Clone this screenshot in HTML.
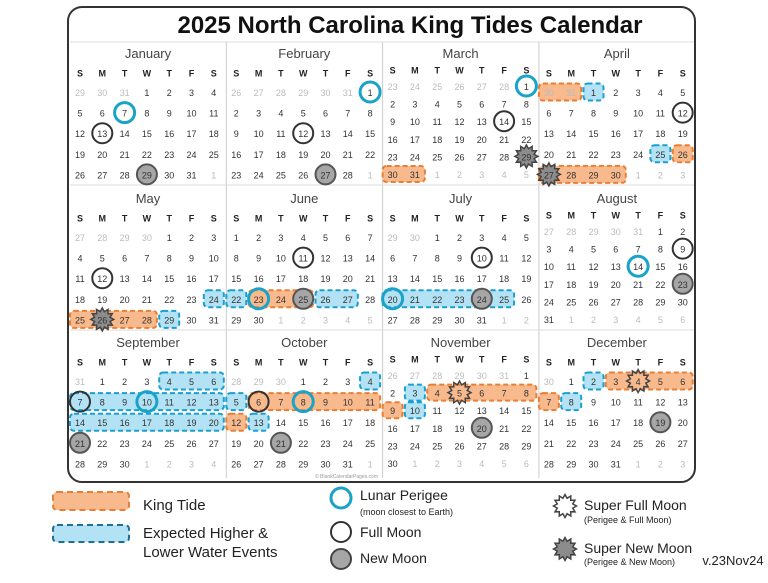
<!DOCTYPE html>
<html><head><meta charset="utf-8"><style>
html,body{margin:0;padding:0;background:#fff;}
svg{display:block;font-family:"Liberation Sans",sans-serif;}
</style></head><body>
<svg id="cal" width="768" height="583" viewBox="0 0 768 583" xmlns="http://www.w3.org/2000/svg">
<rect x="68" y="7" width="627" height="475" rx="14" fill="#fff" stroke="#333" stroke-width="2"/>
<text x="410" y="33" text-anchor="middle" font-size="24" font-weight="bold" fill="#111">2025 North Carolina King Tides Calendar</text>
<g id="grid"></g><g id="marks"></g><g id="days"></g>
<text x="378" y="478" text-anchor="end" font-size="5" fill="#999">© BlankCalendarPages.com</text>
<g>
<rect x="53" y="492" width="76" height="18" rx="4" fill="#f8b98c" stroke="#e97f34" stroke-width="2" stroke-dasharray="6,4"/>
<text x="143" y="510" font-size="15" fill="#222">King Tide</text>
<rect x="53" y="525" width="76" height="17" rx="4" fill="#b3e2f5" stroke="#1c6f96" stroke-width="2" stroke-dasharray="6,4"/>
<text x="143" y="538" font-size="15" fill="#222">Expected Higher &amp;</text>
<text x="143" y="557" font-size="15" fill="#222">Lower Water Events</text>
<circle cx="341" cy="498" r="10" fill="none" stroke="#1aa3c9" stroke-width="3"/>
<text x="360" y="500" font-size="14" fill="#222">Lunar Perigee</text>
<text x="360" y="515" font-size="9" fill="#222">(moon closest to Earth)</text>
<circle cx="341" cy="532" r="10" fill="none" stroke="#333" stroke-width="2"/>
<text x="360" y="537" font-size="14" fill="#222">Full Moon</text>
<circle cx="341" cy="559" r="10" fill="#a6a6a6" stroke="#444" stroke-width="2"/>
<text x="360" y="563" font-size="14" fill="#222">New Moon</text>
<g id="legstars"></g>
<text x="584" y="510" font-size="14" fill="#222">Super Full Moon</text>
<text x="584" y="523" font-size="9" fill="#222">(Perigee &amp; Full Moon)</text>
<text x="584" y="553" font-size="14" fill="#222">Super New Moon</text>
<text x="584" y="565" font-size="9" fill="#222">(Perigee &amp; New Moon)</text>
<text x="733" y="565" text-anchor="middle" font-size="13" fill="#222">v.23Nov24</text>
</g>
</svg>
<script>
const monthNames=["January","February","March","April","May","June","July","August","September","October","November","December"];
const dayHeaders=["S","M","T","W","T","F","S"];
const perigee=[[0,7],[1,1],[2,1],[5,23],[6,20],[7,14],[8,10],[9,8]];
const fullMoon=[[0,13],[1,12],[2,14],[3,12],[4,12],[5,11],[6,10],[7,9],[8,7],[9,6]];
const newMoon=[[0,29],[1,27],[5,25],[6,24],[7,23],[8,21],[9,21],[10,20],[11,19]];
const superNew=[[2,29],[3,27],[4,26]];
const superFull=[[10,5],[11,4]];
const kingTides=[[2,30,31],[3,-1,0],[3,26,26],[3,27,30],[4,25,28],[5,23,25],[9,6,11],[9,12,12],[10,4,8],[10,9,9],[11,3,6],[11,7,7]];
const expected=[[3,1,1],[3,25,25],[4,24,24],[4,29,29],[5,22,22],[5,26,27],[6,20,25],[8,4,6],[8,7,13],[8,14,20],[9,4,4],[9,5,5],[9,13,13],[10,3,3],[10,10,10],[11,2,2],[11,8,8]];
const NS="http://www.w3.org/2000/svg";
function mk(tag,attrs,parent,txt){const e=document.createElementNS(NS,tag);for(const k in attrs)e.setAttribute(k,attrs[k]);if(txt!==undefined)e.textContent=txt;parent.appendChild(e);return e;}
const grid=document.getElementById('grid'),marks=document.getElementById('marks'),days=document.getElementById('days');
const tops=[42,187,331];
function info(m){const s=new Date(2025,m,1).getDay();const n=new Date(2025,m+1,0).getDate();const w=Math.ceil((s+n)/7);return {s,n,w};}
function left(m){return 70+(m%4)*156.3;}
function xCol(m,c){return left(m)+10+c*22.3;}
function yRow(m,r){const T=tops[Math.floor(m/4)];const I=info(m);return I.w===6?T+45+r*17.6:T+51+r*20.6;}
function hdrY(m){const T=tops[Math.floor(m/4)];return info(m).w===6?T+28:T+31;}
function pos(m,d){const I=info(m);const idx=I.s+d-1;return {x:xCol(m,idx%7),y:yRow(m,Math.floor(idx/7))};}
for(let i=1;i<4;i++){const l=mk('line',{x1:70+i*156.3,x2:70+i*156.3,y1:42,y2:478,stroke:'#ccc','stroke-width':1},grid);

}
[42,185,330].forEach(y=>{const l=mk('line',{x1:70,x2:694,y1:y,y2:y,stroke:'#ddd','stroke-width':1},grid);

});
function box(list,fill,stroke,name){list.forEach(([m,a,b])=>{const p=pos(m,a),q=pos(m,b);const h=info(m).w===6?16:17;
const r=mk('rect',{x:p.x-10,y:p.y-h/2-1,width:q.x-p.x+20,height:h,rx:4,fill,stroke,'stroke-width':2,'stroke-dasharray':'5,3'},marks);

});}
box(kingTides,'#f8b98c','#e97f34','king-tide-box');
box(expected,'#b3e2f5','#1a9fd0','expected-event-box');
function star(cx,cy,fill,parent){let pts=[];for(let i=0;i<24;i++){const r=i%2?8:11.5;const a=i*Math.PI/12;pts.push((cx+r*Math.cos(a)).toFixed(1)+','+(cy+r*Math.sin(a)).toFixed(1));}
return mk('polygon',{points:pts.join(' '),fill,stroke:'#444','stroke-width':1.5},parent);}
newMoon.forEach(([m,d])=>{const p=pos(m,d);const c=mk('circle',{cx:p.x,cy:p.y-1,r:10,fill:'#a6a6a6',stroke:'#555','stroke-width':2},marks);

});
fullMoon.forEach(([m,d])=>{const p=pos(m,d);const c=mk('circle',{cx:p.x,cy:p.y-1,r:10,fill:'none',stroke:'#333','stroke-width':2},marks);

});
perigee.forEach(([m,d])=>{const p=pos(m,d);const c=mk('circle',{cx:p.x,cy:p.y-1,r:10,fill:'none',stroke:'#1aa3c9','stroke-width':3},marks);

});
superNew.forEach(([m,d])=>{const p=pos(m,d);const s=star(p.x,p.y-1,'#8c8c8c',marks);

});
superFull.forEach(([m,d])=>{const p=pos(m,d);const s=star(p.x,p.y-1,'none',marks);

});
for(let m=0;m<12;m++){const I=info(m);const T=tops[Math.floor(m/4)];
const t=mk('text',{x:left(m)+78,y:T+16,'text-anchor':'middle','font-size':13,fill:'#444'},days,monthNames[m]);


dayHeaders.forEach((h,c)=>{const e=mk('text',{x:xCol(m,c),y:hdrY(m)+3.5,'text-anchor':'middle','font-size':9,'font-weight':'bold',fill:'#222'},days,h);

});
const prevN=new Date(2025,m,0).getDate();
for(let i=0;i<I.w*7;i++){const d=i-I.s+1;let label,cur=true;
if(d<1){label=prevN+d;cur=false;}else if(d>I.n){label=d-I.n;cur=false;}else label=d;
const e=mk('text',{x:xCol(m,i%7),y:yRow(m,Math.floor(i/7))+3,'text-anchor':'middle','font-size':9,fill:cur?'#333':'#bbb'},days,label);

}}
const ls=document.getElementById('legstars');
const s1=star(565,506,'none',ls);


const s2=star(565,549,'#8c8c8c',ls);


</script>
</body></html>
